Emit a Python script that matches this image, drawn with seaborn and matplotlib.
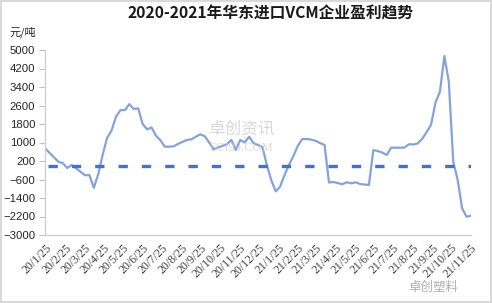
import matplotlib
matplotlib.use("Agg")
import matplotlib.pyplot as plt
import seaborn as sns
import pandas as pd

# ---- data (weekly profit, 元/吨) ----
start_date = "2020-01-23"
profit = [750, 558, 362, 170, 108, -100, 27, -115, -263, -415,
          -405, -960, -370, 470, 1200, 1520, 2110, 2400, 2400, 2660,
          2450, 2480, 1800, 1570, 1650, 1295, 1100, 820, 820, 835,
          940, 1030, 1110, 1140, 1250, 1355, 1270, 1000, 705, 780,
          855, 930, 1110, 675, 1110, 1000, 1250, 975, 890, 800,
          20, -630, -1115, -900, -400, 40, 425, 870, 1150, 1150,
          1125, 1070, 975, 890, -730, -710, -755, -805, -720, -765,
          -720, -795, -820, -835, 675, 630, 565, 460, 775, 775,
          775, 780, 925, 915, 960, 1160, 1450, 1770, 2730, 3200,
          4740, 3630, 170, -620, -1845, -2210, -2165]
zero_line = 0
y_ticks = [5000, 4200, 3400, 2600, 1800, 1000, 200, -600, -1400, -2200, -3000]
tick_labels = ["20/1/25", "20/2/25", "20/3/25", "20/4/25", "20/5/25", "20/6/25",
               "20/7/25", "20/8/25", "20/9/25", "20/10/25", "20/11/25", "20/12/25",
               "21/1/25", "21/2/25", "21/3/25", "21/4/25", "21/5/25", "21/6/25",
               "21/7/25", "21/8/25", "21/9/25", "21/10/25", "21/11/25"]
title = "2020-2021年华东进口VCM企业盈利趋势"
unit = "元/吨"

dates = pd.date_range(start_date, periods=len(profit), freq="7D")
df = pd.DataFrame({"date": dates, "profit": profit})
tick_dates = pd.to_datetime(["20" + t.replace("/", "-", 2) for t in tick_labels],
                            format="%Y-%m-%d")

sns.set_theme(style="white")
plt.rcParams["font.family"] = ["Noto Sans CJK SC", "DejaVu Sans"]
plt.rcParams["axes.unicode_minus"] = True

fig = plt.figure(figsize=(4.92, 3.03), dpi=100)
fig.patch.set_edgecolor("#d9d9d9")
fig.patch.set_linewidth(1.5)
ax = fig.add_axes([45/492, 1-235/303, 426/492, 185/303])

sns.lineplot(data=df, x="date", y="profit", ax=ax, color="#86a2d8", linewidth=1.6)
ax.axhline(zero_line, xmin=0.007, xmax=1.0, color="#4472c4", linewidth=2.4,
           dashes=(2.8, 4.2))

ax.set_ylim(-3000, 5000)
ax.set_xlim(dates[0], dates[-1])
ax.set_yticks(y_ticks)
ax.set_yticklabels([str(v).replace("-", "\u2212") for v in y_ticks],
                   fontfamily="Liberation Sans", fontsize=8.2, color="#262626")
ax.set_xticks(tick_dates)
ax.set_xticklabels(tick_labels,
                   rotation=45, ha="right", va="top", rotation_mode="anchor",
                   fontfamily="Liberation Serif", fontsize=8.6, color="#404040")
ax.set_xlabel("")
ax.set_ylabel("")
ax.tick_params(axis="y", length=4, color="#bfbfbf", width=0.8, pad=3, left=True)
ax.tick_params(axis="x", length=0, pad=5)
for s in ["top", "right"]:
    ax.spines[s].set_visible(False)
for s in ["left", "bottom"]:
    ax.spines[s].set_color("#d0d0d0")
    ax.spines[s].set_linewidth(1.0)

fig.text(0.549, 0.955, title, ha="center", va="center", fontsize=11.3,
         fontweight="bold", color="#1a1a1a")
fig.text(0.02, 0.893, unit, ha="left", va="center", fontsize=8, color="#262626")

# watermarks
fig.text(0.49, 0.575, "卓创资讯", ha="center", va="center", fontsize=12,
         color="#cccccc", alpha=0.75)
fig.text(0.49, 0.51, "SCI99.COM", ha="center", va="center", fontsize=9,
         fontfamily="Liberation Serif", color="#cccccc", alpha=0.75)
fig.text(0.88, 0.05, "卓创塑料", ha="center", va="center", fontsize=9,
         color="#9a9a9a", alpha=0.8)

fig.savefig("out.png", dpi=100)
